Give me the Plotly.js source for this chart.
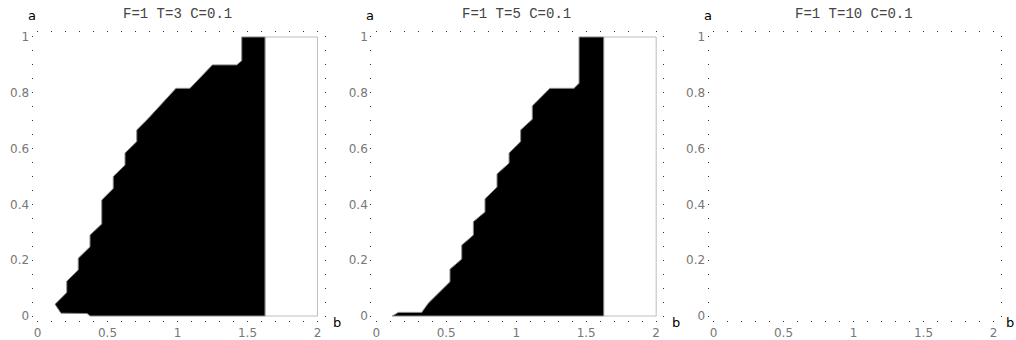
<!DOCTYPE html>
<html>
<head>
<meta charset="utf-8">
<script src="https://cdn.plot.ly/plotly-3.0.1.min.js"></script>
<style>html,body{margin:0;padding:0;background:#fff}#chart{width:1016px;height:340px}</style>
</head>
<body>
<div id="chart"></div>
<script>
// ---- data ----
const panelTitles = ["F=1 T=3 C=0.1", "F=1 T=5 C=0.1", "F=1 T=10 C=0.1"];
// Panel 1 (T=3): boundary of the filled region
const p1_b = [1.625, 1.625, 1.459, 1.459, 1.423, 1.249, 1.089, 0.989, 0.791, 0.709, 0.709, 0.625, 0.625, 0.541, 0.541, 0.459, 0.459, 0.375, 0.375, 0.291, 0.291, 0.209, 0.209, 0.125, 0.168, 0.354, 0.375, 1.625];
const p1_a = [0, 1, 1, 0.915, 0.9, 0.9, 0.816, 0.816, 0.708, 0.667, 0.625, 0.584, 0.541, 0.5, 0.457, 0.416, 0.33, 0.29, 0.248, 0.207, 0.165, 0.125, 0.084, 0.042, 0.01, 0.009, 0, 0];
// Panel 2 (T=5)
const p2_b = [1.625, 1.625, 1.449, 1.449, 1.413, 1.241, 1.115, 1.115, 1.032, 1.032, 0.949, 0.949, 0.863, 0.863, 0.777, 0.777, 0.694, 0.694, 0.611, 0.611, 0.527, 0.527, 0.372, 0.325, 0.158, 0.115, 1.625];
const p2_a = [0, 1, 1, 0.834, 0.816, 0.816, 0.753, 0.705, 0.667, 0.625, 0.584, 0.548, 0.509, 0.462, 0.42, 0.373, 0.338, 0.29, 0.254, 0.204, 0.168, 0.123, 0.046, 0.013, 0.013, 0, 0];
// Panel 3 (T=10): empty region
const p3_b = [];
const p3_a = [];
// Secondary (unfilled) region to the right of the boundary
const box_b = [1.625, 2, 2, 1.625, 1.625];
const box_a = [0, 0, 1, 1, 0];
// Tick labels
const xTicks = [0, 0.5, 1, 1.5, 2];
const yTicks = [0, 0.2, 0.4, 0.6, 0.8, 1];

// ---- layout helpers ----
const W = 1016, H = 340;
const frameL = [33.5, 372.2, 709.5];
const bLabelX = [337, 675.5, 1010];
const frameW = 290, frameTop = 33, frameBot = 320;
const frameH = frameBot - frameTop;

const traces = [];
const regions = [[p1_b, p1_a, true], [p2_b, p2_a, true], [p3_b, p3_a, false]];
regions.forEach((r, i) => {
  const sx = i === 0 ? '' : String(i + 1);
  if (r[2]) {
    traces.push({x: box_b, y: box_a, xaxis: 'x' + sx, yaxis: 'y' + sx, type: 'scatter', mode: 'lines',
      fill: 'toself', fillcolor: '#ffffff', line: {color: '#bdbdbd', width: 1}, hoverinfo: 'skip'});
  }
  traces.push({x: r[0], y: r[1], xaxis: 'x' + sx, yaxis: 'y' + sx, type: 'scatter', mode: 'lines',
    fill: 'toself', fillcolor: '#000000', line: {color: '#888888', width: 1}, hoverinfo: 'skip'});
});

const layout = {
  width: W, height: H,
  margin: {l: 0, r: 0, t: 0, b: 0},
  paper_bgcolor: '#fff', plot_bgcolor: '#fff',
  showlegend: false,
  annotations: []
};
const tickFont = {family: 'DejaVu Sans, sans-serif', size: 12, color: '#777'};
for (let i = 0; i < 3; i++) {
  const sx = i === 0 ? '' : String(i + 1);
  const L = frameL[i];
  layout['xaxis' + sx] = {
    domain: [L / W, (L + frameW) / W],
    anchor: 'y' + sx,
    range: [-0.0286, 2.043],
    tickvals: xTicks, ticktext: xTicks.map(String),
    ticks: 'outside', ticklen: 1, tickwidth: 1, tickcolor: '#333',
    minor: {dtick: 0.1, tick0: 0, ticks: 'outside', ticklen: 1, tickwidth: 1, tickcolor: '#333'},
    mirror: 'ticks', showline: false, showgrid: false, zeroline: false,
    ticklabelstandoff: 1,
    tickfont: tickFont, fixedrange: true
  };
  layout['yaxis' + sx] = {
    domain: [(H - frameBot) / H, (H - frameTop) / H],
    anchor: 'x' + sx,
    range: [-0.0143, 1.0143],
    tickvals: yTicks, ticktext: yTicks.map(String),
    ticks: 'outside', ticklen: 1, tickwidth: 1, tickcolor: '#333',
    minor: {dtick: 0.05, tick0: 0, ticks: 'outside', ticklen: 1, tickwidth: 1, tickcolor: '#333'},
    mirror: 'ticks', showline: false, showgrid: false, zeroline: false,
    tickfont: tickFont, fixedrange: true
  };
  const xd = 'x' + sx + ' domain', yd = 'y' + sx + ' domain';
  layout.annotations.push({
    text: panelTitles[i], xref: xd, yref: yd, x: (37.5 + 140 - 33.5) / frameW, y: (frameBot - 14) / frameH,
    xanchor: 'center', yanchor: 'middle', showarrow: false,
    font: {family: 'Liberation Mono, monospace', size: 14, color: '#444'}
  });
  layout.annotations.push({
    text: 'a', xref: xd, yref: yd, x: -1.8 / frameW, y: (frameBot - 15) / frameH,
    xanchor: 'center', yanchor: 'middle', showarrow: false,
    font: {family: 'DejaVu Sans, sans-serif', size: 13, color: '#000'}
  });
  layout.annotations.push({
    text: 'b', xref: xd, yref: yd, x: (bLabelX[i] - L) / frameW, y: (frameBot - 322) / frameH,
    xanchor: 'center', yanchor: 'middle', showarrow: false,
    font: {family: 'DejaVu Sans, sans-serif', size: 13, color: '#000'}
  });
}

Plotly.newPlot('chart', traces, layout, {staticPlot: true, displayModeBar: false});
</script>
</body>
</html>
